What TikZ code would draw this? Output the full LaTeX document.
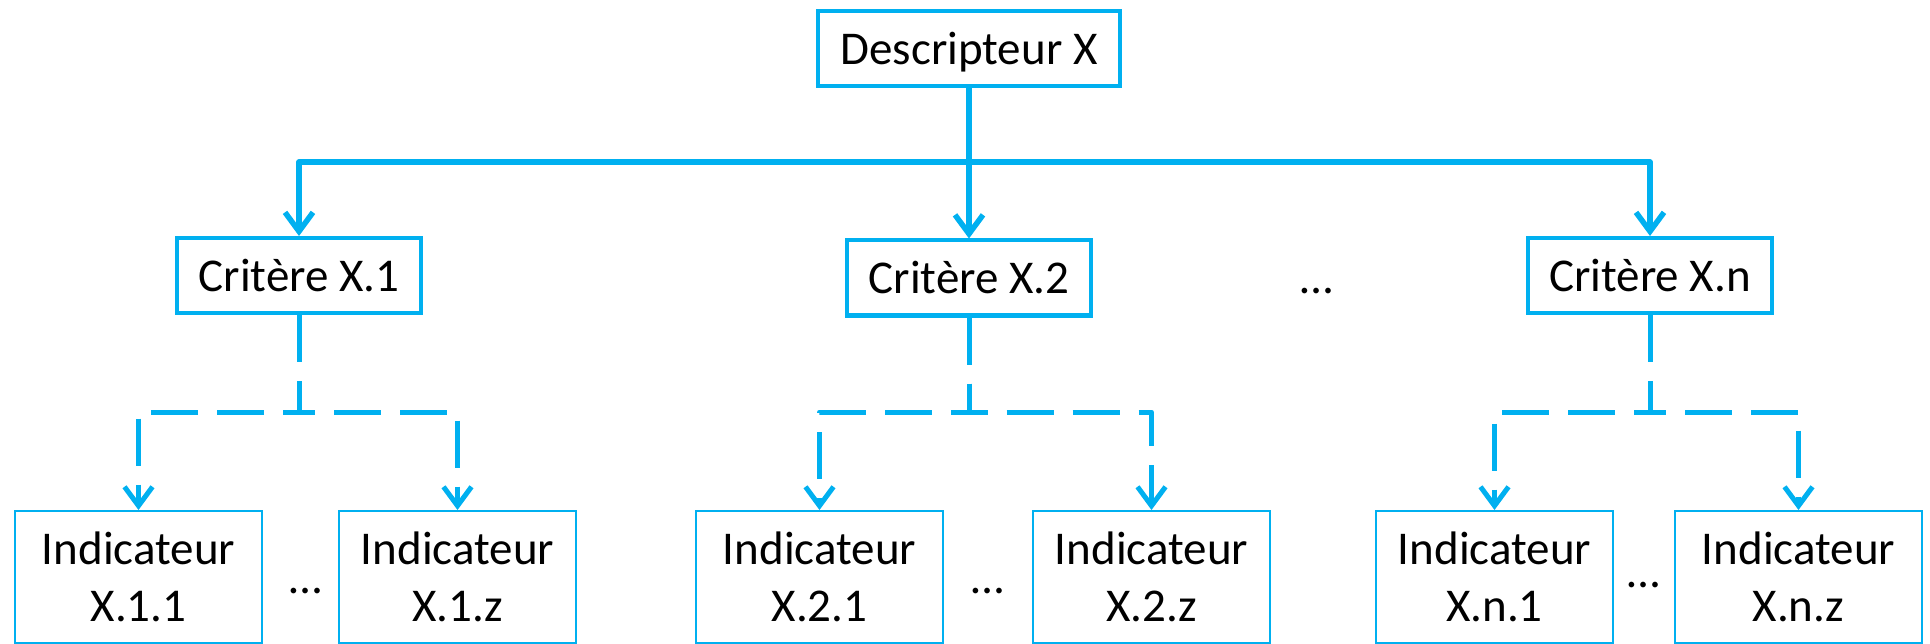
\documentclass[tikz,border=0pt]{standalone}
\usepackage{fontspec}
\setmainfont{Carlito}
\usetikzlibrary{arrows.meta}
\definecolor{xblue}{RGB}{0,176,240}

\begin{document}
\begin{tikzpicture}[x=1pt,y=-1pt,font=\fontsize{47pt}{57pt}\selectfont,
  box/.style={draw=xblue,line width=4pt,inner sep=0pt,minimum width=244pt,
    minimum height=75pt,text height=31pt,text depth=0pt},
  ibox/.style={draw=xblue,line width=2pt,inner sep=0pt,minimum width=#1,
    minimum height=132pt,align=center,anchor=north},
  conn/.style={draw=xblue,line width=5.5pt,line join=round,
    -{Straight Barb[length=19pt,width=28pt]}},
  dconn/.style={conn,line width=5pt,dash pattern=on 47pt off 19pt}]

\useasboundingbox (0,0) rectangle (1930,644);
\clip (0,0) rectangle (1930,644);

  \coordinate (tBus) at (0,162);
  \coordinate (tFork) at (0,412);

\node[box,minimum width=302pt] (tD) at (969,49) {Descripteur X};

\node[box] (tC1) at (299,275.5) {Critère X.1};
\node[box] (tC2) at (969,278) {Critère X.2};
\node[box] (tCn) at (1650,275.5) {Critère X.n};
  \node[anchor=base] (tDots) at (1317,294) {…};

  \draw[conn] (tD.south) -- (tD.south |- tBus) -| (tC1.north);
  \draw[conn] (tD.south) -- (tC2.north);
  \draw[conn] (tD.south) -- (tD.south |- tBus) -| (tCn.north);

% indicateurs
\node[ibox=247pt] (tI11) at (138.5,510) {Indicateur\\X.1.1};
\node[ibox=237pt] (tI1z) at (457.5,510) {Indicateur\\X.1.z};
\node[ibox=247pt] (tI21) at (819.5,510) {Indicateur\\X.2.1};
\node[ibox=237pt] (tI2z) at (1151.5,510) {Indicateur\\X.2.z};
\node[ibox=237pt] (tIn1) at (1494.5,510) {Indicateur\\X.n.1};
\node[ibox=247pt] (tInz) at (1798.5,510) {Indicateur\\X.n.z};

  \node[anchor=base] (tDots1) at (306,593) {…};
  \node[anchor=base] (tDots2) at (988,593) {…};
  \node[anchor=base] (tDotsn) at (1644,587) {…};

  \draw[dconn] (tC1.south) -- (tC1.south |- tFork) -| (tI11.north);
  \draw[dconn] (tC1.south) -- (tC1.south |- tFork) -| (tI1z.north);
  \draw[dconn] (tC2.south) -- (tC2.south |- tFork) -| (tI21.north);
  \draw[dconn] (tC2.south) -- (tC2.south |- tFork) -| (tI2z.north);
  \draw[dconn] (tCn.south) -- (tCn.south |- tFork) -| (tIn1.north);
  \draw[dconn] (tCn.south) -- (tCn.south |- tFork) -| (tInz.north);

\end{tikzpicture}
\end{document}
